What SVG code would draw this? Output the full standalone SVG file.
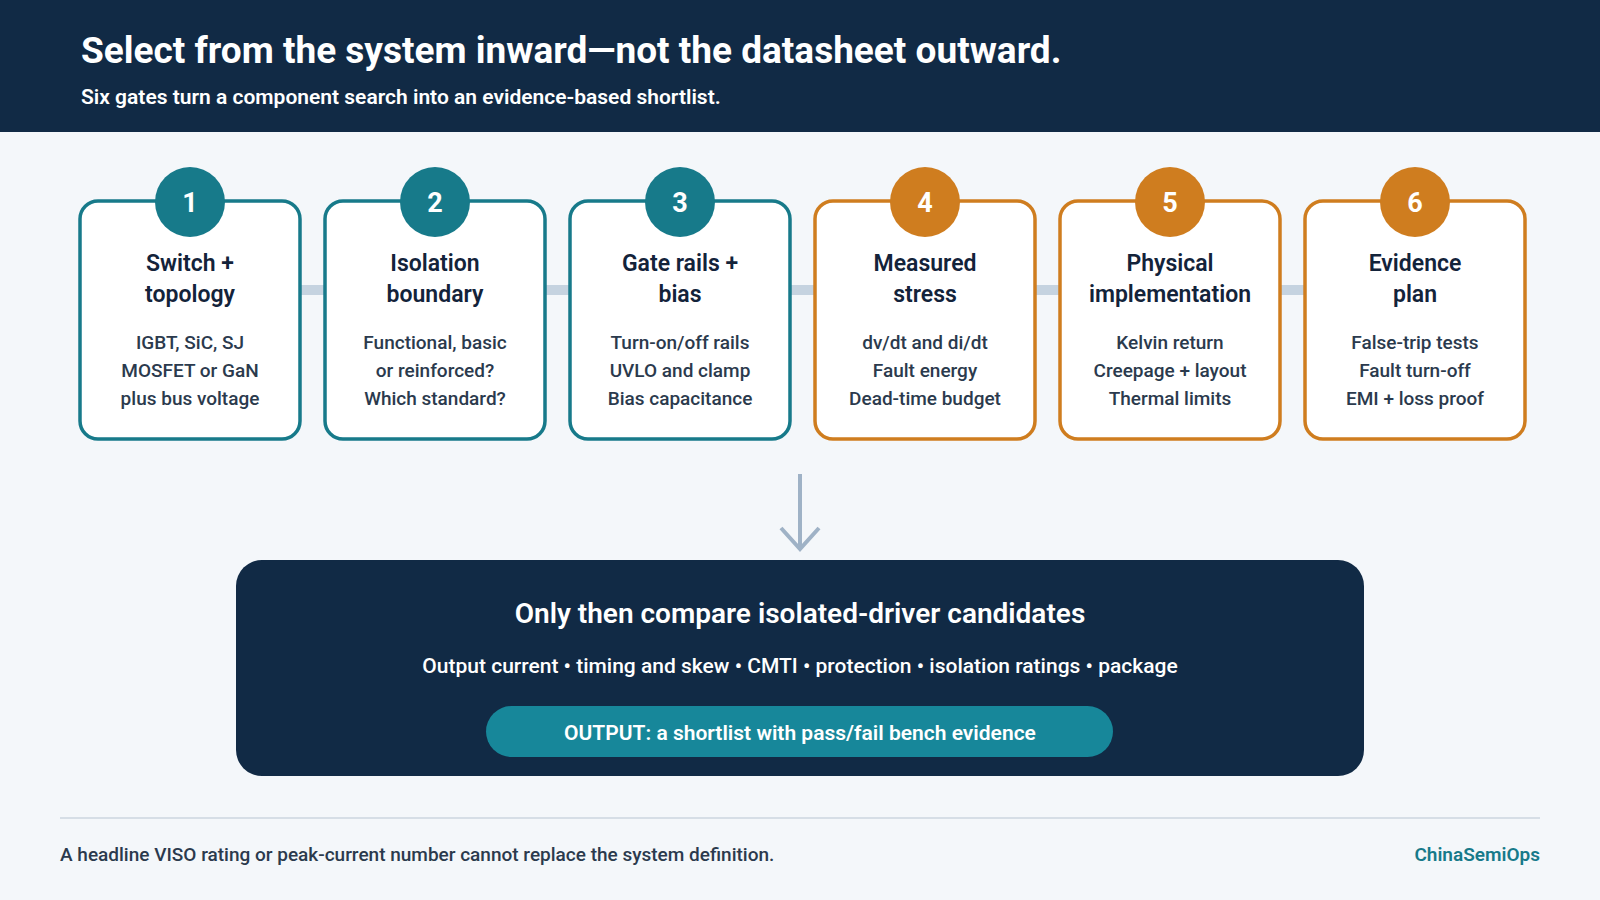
<svg xmlns="http://www.w3.org/2000/svg" width="1600" height="900" viewBox="0 0 1600 900">
<style>
text{font-family:Roboto,"Liberation Sans",sans-serif;}
.card{fill:#fff;stroke-width:3.5}
.t{stroke:#177a8a}.o{stroke:#cf7d1f}
.ct{fill:#177a8a}.co{fill:#cf7d1f}
.num{fill:#fff;font-size:27px;font-weight:700;text-anchor:middle}
.ttl{fill:#13233a;font-size:23px;font-weight:600;text-anchor:middle}
.det{fill:#2b3a4d;font-size:19px;font-weight:500;text-anchor:middle}
</style>
<rect width="1600" height="900" fill="#f4f7fa"/>
<rect width="1600" height="132" fill="#112a45"/>
<text x="81" y="63" fill="#fff" font-size="37" font-weight="700">Select from the system inward—not the datasheet outward.</text>
<text x="81" y="104" fill="#fff" font-size="21" font-weight="600">Six gates turn a component search into an evidence-based shortlist.</text>
<g id="connectors" stroke="#c5d3e0" stroke-width="10">
<line x1="300" y1="290" x2="325" y2="290"/><line x1="545" y1="290" x2="570" y2="290"/><line x1="790" y1="290" x2="815" y2="290"/><line x1="1035" y1="290" x2="1060" y2="290"/><line x1="1280" y1="290" x2="1305" y2="290"/>
<path d="M800 474V548M781 528L800 549L819 528" fill="none" stroke="#9fb2c6" stroke-width="4"/>
</g>
<g id="n1"><rect class="card t" x="80" y="201" width="220" height="238" rx="18"/><circle class="ct" cx="190" cy="202" r="35"/><text class="num" x="190" y="212">1</text><text class="ttl" x="190" y="271">Switch +</text><text class="ttl" x="190" y="302">topology</text><text class="det" x="190" y="349">IGBT, SiC, SJ</text><text class="det" x="190" y="377">MOSFET or GaN</text><text class="det" x="190" y="405">plus bus voltage</text></g>
<g id="n2"><rect class="card t" x="325" y="201" width="220" height="238" rx="18"/><circle class="ct" cx="435" cy="202" r="35"/><text class="num" x="435" y="212">2</text><text class="ttl" x="435" y="271">Isolation</text><text class="ttl" x="435" y="302">boundary</text><text class="det" x="435" y="349">Functional, basic</text><text class="det" x="435" y="377">or reinforced?</text><text class="det" x="435" y="405">Which standard?</text></g>
<g id="n3"><rect class="card t" x="570" y="201" width="220" height="238" rx="18"/><circle class="ct" cx="680" cy="202" r="35"/><text class="num" x="680" y="212">3</text><text class="ttl" x="680" y="271">Gate rails +</text><text class="ttl" x="680" y="302">bias</text><text class="det" x="680" y="349">Turn-on/off rails</text><text class="det" x="680" y="377">UVLO and clamp</text><text class="det" x="680" y="405">Bias capacitance</text></g>
<g id="n4"><rect class="card o" x="815" y="201" width="220" height="238" rx="18"/><circle class="co" cx="925" cy="202" r="35"/><text class="num" x="925" y="212">4</text><text class="ttl" x="925" y="271">Measured</text><text class="ttl" x="925" y="302">stress</text><text class="det" x="925" y="349">dv/dt and di/dt</text><text class="det" x="925" y="377">Fault energy</text><text class="det" x="925" y="405">Dead-time budget</text></g>
<g id="n5"><rect class="card o" x="1060" y="201" width="220" height="238" rx="18"/><circle class="co" cx="1170" cy="202" r="35"/><text class="num" x="1170" y="212">5</text><text class="ttl" x="1170" y="271">Physical</text><text class="ttl" x="1170" y="302">implementation</text><text class="det" x="1170" y="349">Kelvin return</text><text class="det" x="1170" y="377">Creepage + layout</text><text class="det" x="1170" y="405">Thermal limits</text></g>
<g id="n6"><rect class="card o" x="1305" y="201" width="220" height="238" rx="18"/><circle class="co" cx="1415" cy="202" r="35"/><text class="num" x="1415" y="212">6</text><text class="ttl" x="1415" y="271">Evidence</text><text class="ttl" x="1415" y="302">plan</text><text class="det" x="1415" y="349">False-trip tests</text><text class="det" x="1415" y="377">Fault turn-off</text><text class="det" x="1415" y="405">EMI + loss proof</text></g>
<g id="summary"><rect x="236" y="560" width="1128" height="216" rx="26" fill="#112a45"/>
<text x="800" y="623" fill="#fff" font-size="28" font-weight="600" text-anchor="middle">Only then compare isolated-driver candidates</text>
<text x="800" y="673" fill="#fff" font-size="21" font-weight="500" text-anchor="middle">Output current • timing and skew • CMTI • protection • isolation ratings • package</text>
<rect x="486" y="706" width="627" height="51" rx="25.5" fill="#17879a"/>
<text x="800" y="740" fill="#fff" font-size="21" font-weight="600" text-anchor="middle">OUTPUT: a shortlist with pass/fail bench evidence</text></g>
<line x1="60" y1="818" x2="1540" y2="818" stroke="#d6dee6" stroke-width="2"/>
<text x="60" y="861" fill="#2b3a4d" font-size="19" font-weight="500">A headline VISO rating or peak-current number cannot replace the system definition.</text>
<text x="1540" y="861" fill="#177a8a" font-size="19" font-weight="600" text-anchor="end">ChinaSemiOps</text>
</svg>
